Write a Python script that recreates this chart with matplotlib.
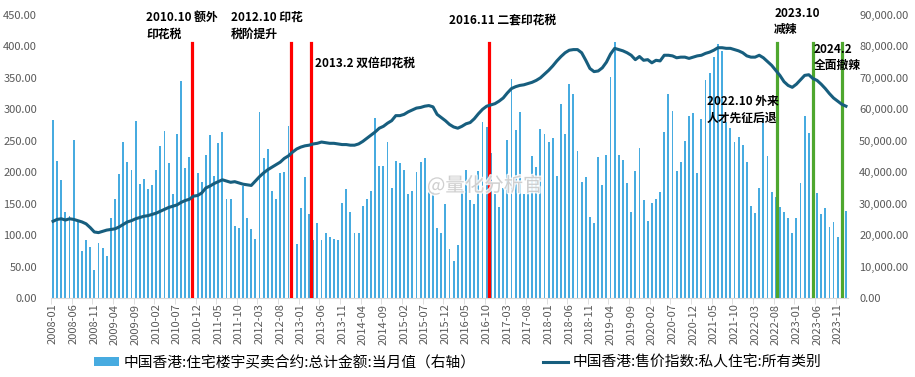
import numpy as np
import pandas as pd
import matplotlib
matplotlib.use("Agg")
import matplotlib.pyplot as plt
from matplotlib.ticker import FuncFormatter, FixedLocator
from matplotlib.patches import Patch
from matplotlib.lines import Line2D
import matplotlib.patheffects as pe

plt.rcParams['font.family'] = ['Noto Sans CJK SC', 'DejaVu Sans']

# monthly categories 2008-01 .. 2024-01
months = pd.period_range('2008-01', periods=193, freq='M').strftime('%Y-%m').tolist()

# 住宅楼宇买卖合约总计金额 (right axis)
contracts = [
    56600, 43600, 37400, 27400, 26200, 50200, 24800, 15000, 18600, 16200, 8800, 17400,
    16000, 13400, 25400, 31400, 39400, 49600, 43400, 40800, 56200, 36400, 38000, 34600,
    36000, 40800, 48200, 53000, 42800, 33000, 52200, 69000, 41200, 44800, 58800, 39600,
    37000, 45600, 51800, 38800, 49400, 52800, 31600, 31600, 22800, 22200, 35600, 25400,
    22000, 18800, 59200, 44600, 47400, 34000, 31600, 39800, 40200, 54800, 42000, 17200,
    28600, 38600, 26800, 18600, 24000, 18400, 20800, 19400, 18800, 18400, 30200, 34800,
    27200, 20800, 20600, 29200, 31600, 34000, 57200, 42000, 42000, 49600, 35000, 43600,
    43000, 40800, 33000, 34000, 40200, 43200, 44600, 33800, 33800, 22200, 20600, 29800,
    15600, 11800, 16800, 34800, 40800, 31200, 29800, 40400, 56000, 54400, 46000, 33200,
    28800, 35000, 50200, 69600, 53400, 59200, 33000, 38000, 45200, 41800, 53800, 52000,
    49600, 50800, 38800, 61600, 52200, 68000, 65000, 46800, 37000, 38600, 25800, 24000,
    44800, 36000, 45600, 70200, 81400, 45400, 44000, 36600, 27400, 40400, 47600, 31200,
    24600, 30200, 31600, 33600, 52800, 64800, 59400, 40400, 43400, 50000, 57800, 58800,
    39600, 56800, 69400, 71600, 76800, 80800, 78600, 56000, 54000, 49600, 51200, 48600,
    43400, 29400, 27000, 35000, 57200, 45200, 33600, 32200, 29000, 27200, 25600, 20800,
    25400, 36600, 58000, 52400, 36600, 33400, 26600, 28600, 22600, 24200, 19400, 24200,
    27800,
]

# 售价指数:私人住宅:所有类别 (left axis)
price_index = [
    122, 125, 126, 124, 126, 125, 123, 121, 118, 112, 105, 104,
    106, 108, 109, 110, 113, 117, 121, 123, 126, 128, 130, 131,
    133, 135, 138, 141, 144, 146, 148, 152, 155, 157, 162, 163,
    167, 175, 178, 182, 185, 188, 186, 184, 185, 183, 181, 180,
    179, 186, 193, 199, 204, 208, 212, 216, 222, 226, 232, 237,
    240, 242, 243, 245, 246, 248, 247, 246, 246, 245, 244, 244,
    243, 243, 245, 249, 254, 259, 264, 270, 273, 278, 282, 290,
    290, 292, 296, 299, 302, 303, 305, 306, 304, 292, 287, 282,
    276, 272, 270, 273, 277, 279, 285, 293, 300, 305, 307, 309,
    313, 318, 326, 333, 336, 338, 339, 341, 343, 346, 350, 356,
    362, 369, 377, 384, 390, 394, 395, 395, 390, 378, 365, 360,
    361, 366, 375, 388, 397, 395, 393, 390, 386, 379, 384, 378,
    379, 374, 378, 377, 386, 386, 385, 382, 383, 383, 381, 383,
    385, 386, 389, 391, 394, 398, 398, 397, 397, 395, 393, 390,
    385, 383, 383, 386, 382, 376, 370, 362, 354, 344, 338, 335,
    340, 347, 354, 355, 349, 346, 340, 333, 325, 318, 313, 308,
    305,
]

# policy markers (position in months from 2008-01)
red_events = [33.6, 57.6, 62.4, 105.6]
green_events = [175.2, 184.1, 191.1]

bar_color = '#47ABE0'
line_color = '#175E7E'
grey = '#595959'

fig = plt.figure(figsize=(9.15, 3.77), dpi=100)
ax1 = fig.add_axes([0.0557, 0.2095, 0.8711, 0.7507])
ax2 = ax1.twinx()

x = np.arange(len(months))

# bars on ax1 (ticks on the right), line on ax2 (ticks on the left)
ax1.bar(x, contracts, width=0.45, color=bar_color, zorder=2)
ax1.set_ylim(0, 90000)
ax1.set_xlim(-0.5, len(months) - 0.5)
ax1.yaxis.tick_right()
ax1.set_yticks(np.arange(0, 90001, 10000))
ax1.yaxis.set_major_formatter(FuncFormatter(lambda v, p: f'{v:,.2f}'))

for e in red_events:
    ax2.plot([e, e], [0, 405], color='#FF0000', lw=2.3, zorder=2)
for e in green_events:
    ax2.plot([e, e], [0, 405], color='#4EA72E', lw=2.3, zorder=2)
ax2.plot(x, price_index, color=line_color, lw=2.2, zorder=3)
ax2.set_ylim(0, 450)
ax2.yaxis.tick_left()
ax2.set_yticks(np.arange(0, 451, 50))
ax2.yaxis.set_major_formatter(FuncFormatter(lambda v, p: f'{v:.2f}'))

ax1.set_xticks(x[::5])
ax1.set_xticklabels(months[::5], rotation=90)
ax1.xaxis.set_minor_locator(FixedLocator(np.arange(-0.5, len(months), 5)))

for a in (ax1, ax2):
    for s in a.spines.values():
        s.set_visible(False)
ax1.spines['bottom'].set_visible(True)
ax1.spines['bottom'].set_color('#D9D9D9')

ax1.tick_params(axis='x', which='major', length=0, pad=4, labelsize=8, labelcolor=grey)
ax1.tick_params(axis='x', which='minor', length=4, color='#D9D9D9')
ax1.tick_params(axis='y', length=0, pad=8, labelsize=8, labelcolor=grey)
ax2.tick_params(axis='y', length=0, pad=10, labelsize=8, labelcolor=grey)

# annotations
tkw = dict(fontsize=8.5, fontweight='bold', color='black', va='top', ha='left',
           linespacing=1.35, zorder=5, clip_on=False)
ax2.text(22.6, 456, '2010.10 额外\n印花税', **tkw)
ax2.text(43.0, 456, '2012.10 印花\n税阶提升', **tkw)
ax2.text(63.4, 383, '2013.2 双倍印花税', **tkw)
ax2.text(95.9, 453, '2016.11 二套印花税', **tkw)
ax2.text(174.6, 463, '2023.10\n减辣', **tkw)
ax2.text(184.1, 406, '2024.2\n全面撤辣', **tkw)
ax2.text(158.3, 323, '2022.10 外来\n人才先征后退', **tkw)

# watermark
fig.text(0.53, 0.507, '@量化分析官', fontsize=14, color='#C8C8C8', alpha=0.85,
         ha='center', va='center',
         path_effects=[pe.withStroke(linewidth=2, foreground='white')])

handles = [Patch(facecolor=bar_color), Line2D([0], [0], color=line_color, lw=2.2)]
labels = ['中国香港:住宅楼宇买卖合约:总计金额:当月值（右轴）', '中国香港:售价指数:私人住宅:所有类别']
fig.legend(handles, labels, loc='center', bbox_to_anchor=(0.5, 0.038), ncol=2,
           frameon=False, fontsize=10.6, columnspacing=4.6, handlelength=1.7,
           handleheight=0.5, handletextpad=0.3)

fig.savefig('out.png', dpi=100)
